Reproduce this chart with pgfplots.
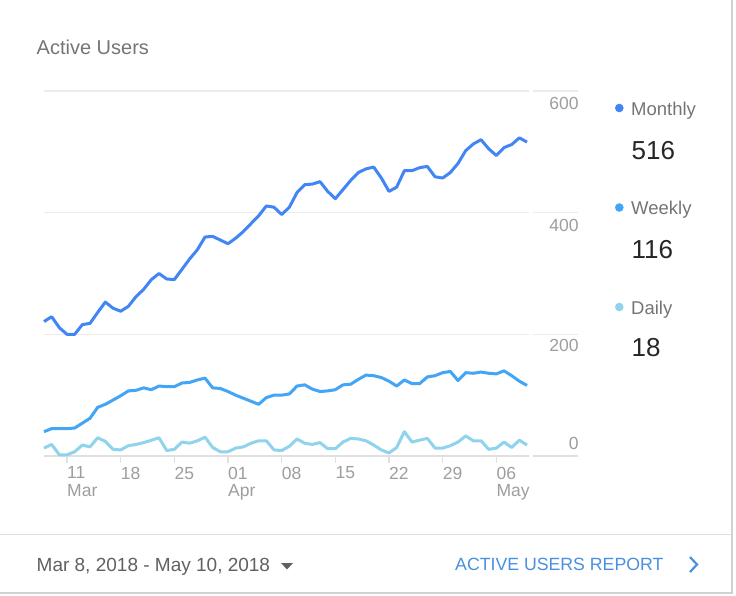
\documentclass[border=0pt]{standalone}
\usepackage{pgfplots}
\pgfplotsset{compat=1.18}
\usepackage{pgfplotstable}
\usepackage{fontspec}
\setmainfont{Liberation Sans}

\definecolor{monthly}{HTML}{4285F4}
\definecolor{weekly}{HTML}{42A5F5}
\definecolor{daily}{HTML}{8FD3EC}
\definecolor{gridc}{HTML}{EBEBEB}
\definecolor{axisc}{HTML}{E0E0E0}
\definecolor{labelc}{HTML}{9E9E9E}
\definecolor{legc}{HTML}{757575}
\definecolor{linkc}{HTML}{4A90E2}

\newcommand\fs[2]{\fontsize{#1}{#2}\selectfont}

% day 0 = Mar 8, day 63 = May 10
\pgfplotstableread{
day monthly weekly daily
0  221 40 13
1  229 45 19
2  211 45 2
3  200 45 2
4  200 46 7
5  216 54 18
6  218 62 15
7  236 80 30
8  253 85 24
9  243 92 11
10 238 99 10
11 246 107 17
12 262 108 19
13 274 112 22
14 290 109 26
15 300 115 30
16 291 114 9
17 290 114 11
18 307 120 23
19 324 121 21
20 339 125 25
21 360 128 31
22 361 112 14
23 355 111 7
24 349 106 7
25 358 100 13
26 369 95 15
27 382 90 21
28 395 85 25
29 411 96 25
30 409 100 10
31 397 100 9
32 409 102 16
33 433 115 28
34 446 117 21
35 447 110 19
36 451 106 22
37 435 107 12
38 423 109 12
39 438 117 23
40 453 118 29
41 466 126 28
42 472 133 25
43 475 132 18
44 457 129 10
45 435 123 5
46 442 115 14
47 469 125 40
48 469 119 23
49 474 119 26
50 476 130 29
51 459 132 13
52 457 137 13
53 466 139 17
54 481 124 23
55 502 137 33
56 513 136 25
57 520 138 25
58 505 136 11
59 494 135 13
60 507 140 23
61 512 132 14
62 523 123 26
63 516 116 18
}\users

\begin{document}
\begin{tikzpicture}
\path[use as bounding box] (0pt,0pt) rectangle (736pt,-595pt);
\fill[white] (0pt,0pt) rectangle (732pt,-593pt);
\draw[black!18, line width=2pt] (732pt,0pt) -- (732pt,-593pt) -- (0pt,-593pt);
\draw[axisc, line width=1.5pt] (0pt,-534.5pt) -- (731pt,-534.5pt);

\node[anchor=base west, inner sep=0, text=legc, font=\fs{20}{24}] at (36.5pt,-54pt) {Active Users};

\begin{axis}[
    at={(44pt,-456pt)}, anchor=south west,
    scale only axis, width=534pt, height=365pt,
    xmin=0, xmax=69.65, ymin=0, ymax=600,
    axis x line*=bottom,
    axis y line*=right,
    x axis line style={draw=axisc, line width=2pt, -},
    y axis line style={draw=none},
    ytick={200,400,600}, yticklabels={},
    ytick style={draw=none},
    ymajorgrids,
    major grid style={draw=gridc, line width=1.5pt},
    xtick={3,10,17,24,31,38,45,52,59},
    xticklabels={{11\\Mar},{18},{25},{01\\Apr},{08},{15},{22},{29},{06\\May}},
    tick align=outside, major tick length=7pt,
    xtick style={draw=axisc, line width=1.5pt},
    xticklabel style={anchor=north west, align=left, inner sep=0pt,
        yshift=-3.6pt, text=labelc, font=\fs{17.5}{17.5}},
    clip=false,
]
\addplot[daily, line width=3pt, line join=round] table[x=day, y=daily] {\users};
\addplot[weekly, line width=3pt, line join=round] table[x=day, y=weekly] {\users};
\addplot[monthly, line width=3pt, line join=round] table[x=day, y=monthly] {\users};
\end{axis}

\fill[white] (528.5pt,-80pt) rectangle (532.5pt,-462pt);

\begin{scope}[every node/.style={anchor=base east, inner sep=0, text=labelc, font=\fs{17.5}{17.5}}]
\node at (578.7pt,-109.3pt) {600};
\node at (578.7pt,-231pt) {400};
\node at (578.7pt,-351.7pt) {200};
\node at (578.7pt,-449.5pt) {0};
\end{scope}

\fill[monthly] (619.3pt,-108pt) circle (4.3pt);
\fill[weekly] (619.3pt,-207.5pt) circle (4.3pt);
\fill[daily] (619.3pt,-307pt) circle (4.3pt);
\begin{scope}[every node/.style={anchor=base west, inner sep=0, text=legc, font=\fs{18.5}{20}}]
\node at (631pt,-115pt) {Monthly};
\node at (631pt,-214pt) {Weekly};
\node at (631pt,-314pt) {Daily};
\end{scope}
\begin{scope}[every node/.style={anchor=base west, inner sep=0, text=black!85, font=\fs{26}{28}}]
\node at (631.5pt,-159pt) {516};
\node at (631.5pt,-258pt) {116};
\node at (631.5pt,-356.7pt) {18};
\end{scope}

\node[anchor=base west, inner sep=0, text=black!62, font=\fs{19}{22}] at (36.5pt,-571pt) {Mar 8, 2018 - May 10, 2018};
\fill[black!62] (281pt,-563pt) -- (293pt,-563pt) -- (287pt,-569.5pt) -- cycle;
\node[anchor=base west, inner sep=0, text=linkc, font=\fs{17.7}{20}] at (455pt,-570.5pt) {ACTIVE USERS REPORT};
\draw[linkc, line width=2.2pt] (690pt,-557pt) -- (697pt,-564.5pt) -- (690pt,-572pt);
\end{tikzpicture}
\end{document}
